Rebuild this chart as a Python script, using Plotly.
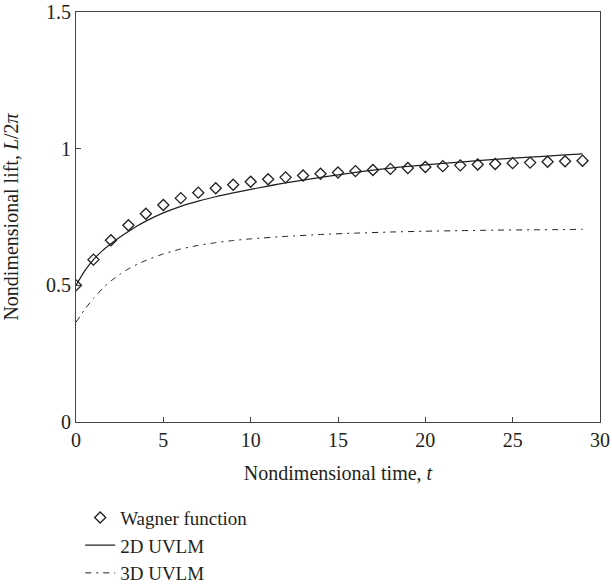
import plotly.graph_objects as go

# Wagner function (markers)
wagner_t = list(range(0, 30))
wagner_v = [0.500, 0.594, 0.665, 0.720, 0.762, 0.794, 0.819, 0.839, 0.855, 0.868,
            0.879, 0.888, 0.895, 0.902, 0.908, 0.913, 0.918, 0.922, 0.926, 0.929,
            0.933, 0.936, 0.939, 0.942, 0.944, 0.947, 0.949, 0.952, 0.954, 0.956]

# 2D UVLM (solid line)
uvlm2d_t = [0, 0.5, 1, 1.5, 2, 2.5, 3, 3.5, 4, 5, 6, 7, 8, 9, 10, 12, 14, 16, 18, 20, 22, 24, 26, 28, 29]
uvlm2d_v = [0.500, 0.553, 0.594, 0.626, 0.652, 0.676, 0.697, 0.717, 0.735, 0.765, 0.789, 0.808, 0.824,
            0.838, 0.851, 0.875, 0.895, 0.913, 0.929, 0.941, 0.951, 0.961, 0.969, 0.977, 0.981]

# 3D UVLM (dash-dot line)
uvlm3d_t = [0, 0.5, 1, 1.5, 2, 2.5, 3, 3.5, 4, 5, 6, 7, 8, 9, 10, 12, 14, 16, 18, 20, 22, 24, 26, 28, 29]
uvlm3d_v = [0.365, 0.412, 0.452, 0.487, 0.516, 0.540, 0.560, 0.577, 0.591, 0.615, 0.633, 0.646, 0.656,
            0.664, 0.670, 0.679, 0.686, 0.691, 0.695, 0.698, 0.700, 0.702, 0.703, 0.704, 0.705]

x_ticks = [0, 5, 10, 15, 20, 25, 30]
y_ticks = [0, 0.5, 1, 1.5]
y_tick_labels = ["0", "0.5", "1", "1.5"]

ink = "#231f20"
font_family = "Liberation Serif, Times New Roman, serif"
fs = 20

fig = go.Figure()
fig.add_trace(go.Scatter(
    x=wagner_t, y=wagner_v, mode="markers", name="Wagner function",
    marker=dict(symbol="diamond-open", size=8.5, color=ink, line=dict(width=1.3, color=ink)),
))
fig.add_trace(go.Scatter(
    x=uvlm2d_t, y=uvlm2d_v, mode="lines", name="2D UVLM", line_shape="spline",
    line=dict(color=ink, width=1.2, smoothing=0.6),
))
fig.add_trace(go.Scatter(
    x=uvlm3d_t, y=uvlm3d_v, mode="lines", name="3D UVLM", line_shape="spline",
    line=dict(color=ink, width=1.0, dash="6px,5px,2px,5px", smoothing=0.6),
))

axis_common = dict(
    showgrid=False, zeroline=False, showline=True, linecolor="#444444", linewidth=1.2,
    mirror=True, ticks="inside", ticklen=5, tickwidth=1, tickcolor="#444444",
    tickfont=dict(family=font_family, size=fs, color=ink),
    ticklabeloverflow="allow", automargin=False,
)

fig.update_layout(
    width=612, height=588,
    margin=dict(l=76, r=12, t=12, b=166),
    paper_bgcolor="white", plot_bgcolor="white",
    font=dict(family=font_family, size=fs, color=ink),
    xaxis=dict(range=[0, 30], tickvals=x_ticks,
               title=dict(text="Nondimensional time, <i>t</i>", font=dict(size=fs), standoff=15),
               **axis_common),
    yaxis=dict(range=[0, 1.5], tickvals=y_ticks, ticktext=y_tick_labels,
               title=dict(text="Nondimensional lift, <i>L</i>/2<i>π</i>", font=dict(size=fs), standoff=22),
               **axis_common),
    showlegend=True,
    legend=dict(x=0.008, xanchor="left", xref="paper", y=0.152, yref="container", yanchor="top",
                font=dict(family=font_family, size=19, color=ink), bgcolor="rgba(0,0,0,0)",
                tracegroupgap=0, itemwidth=30),
)

fig.write_html("out.html")
